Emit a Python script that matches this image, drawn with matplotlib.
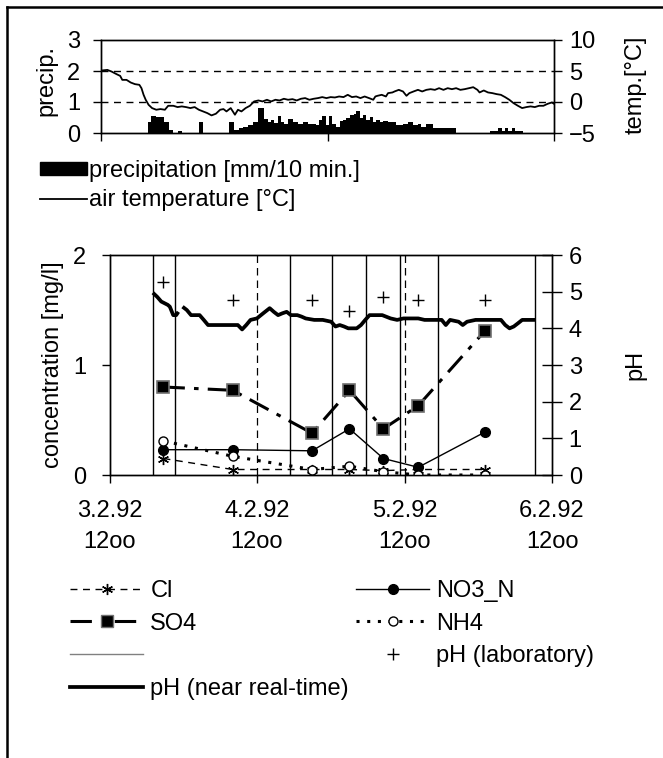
import numpy as np
import matplotlib.pyplot as plt
from matplotlib.lines import Line2D
from matplotlib.patches import Rectangle

plt.rcParams['font.family'] = ['Liberation Sans', 'DejaVu Sans']
plt.rcParams['font.size'] = 17

# time axis: days after 3.2.92 12:00
# precipitation blocks [mm/10 min.]: block edges and heights
precip_edges = [0.308, 0.330, 0.367, 0.418, 0.451, 0.474, 0.513, 0.535, 0.646, 0.677,
                0.850, 0.883, 0.916, 0.938, 0.971, 1.004, 1.038, 1.082, 1.104, 1.126,
                1.148, 1.170, 1.193, 1.215, 1.237, 1.270, 1.303, 1.336, 1.369, 1.403,
                1.425, 1.447, 1.465, 1.487, 1.509, 1.531, 1.558, 1.580, 1.602, 1.624,
                1.646, 1.673, 1.690, 1.712, 1.734, 1.757, 1.779, 1.801, 1.823, 1.845,
                1.867, 1.900, 1.956, 2.000, 2.033, 2.066, 2.099, 2.122, 2.155, 2.199,
                2.232, 2.310, 2.354, 2.575, 2.628, 2.655, 2.675, 2.695, 2.720, 2.740,
                2.794]
precip_mm = [0.36, 0.55, 0.51, 0.36, 0.10, 0, 0.06, 0, 0.36, 0,
             0.36, 0.10, 0.17, 0.20, 0.25, 0.34, 0.80, 0.45, 0.34, 0.43,
             0.32, 0.55, 0.36, 0.28, 0.45, 0.34, 0.28, 0.34, 0.28, 0.28,
             0.25, 0.43, 0.55, 0.25, 0.55, 0.28, 0.20, 0.40, 0.43, 0.48,
             0.57, 0.62, 0.70, 0.48, 0.57, 0.43, 0.51, 0.36, 0.43, 0.34,
             0.40, 0.34, 0.25, 0.28, 0.34, 0.25, 0.28, 0.20, 0.28, 0.17,
             0.17, 0.17, 0, 0.08, 0.15, 0.08, 0.15, 0.08, 0.15, 0.05]

# air temperature [°C]
temp_t = [0.000, 0.042, 0.070, 0.099, 0.127, 0.141, 0.169, 0.197, 0.225, 0.254,
          0.268, 0.282, 0.296, 0.315, 0.338, 0.366, 0.394, 0.423, 0.445, 0.479,
          0.507, 0.535, 0.563, 0.592, 0.620, 0.648, 0.676, 0.704, 0.732, 0.761,
          0.789, 0.811, 0.831, 0.859, 0.887, 0.907, 0.930, 0.958, 0.986, 1.014,
          1.042, 1.070, 1.099, 1.127, 1.155, 1.183, 1.211, 1.239, 1.268, 1.296,
          1.324, 1.352, 1.380, 1.408, 1.437, 1.465, 1.493, 1.521, 1.549, 1.577,
          1.606, 1.634, 1.662, 1.690, 1.718, 1.746, 1.775, 1.803, 1.817, 1.831,
          1.859, 1.887, 1.901, 1.930, 1.944, 1.972, 2.000, 2.023, 2.042, 2.070,
          2.099, 2.127, 2.155, 2.183, 2.211, 2.239, 2.268, 2.296, 2.324, 2.352,
          2.380, 2.408, 2.437, 2.465, 2.493, 2.507, 2.535, 2.563, 2.592, 2.620,
          2.648, 2.676, 2.704, 2.732, 2.761, 2.789, 2.817, 2.845, 2.873, 2.901,
          2.930, 2.958, 2.986, 3.000]
temp_c = [5.07, 5.18, 4.91, 4.54, 4.21, 3.57, 3.57, 3.14, 2.88, 2.77,
          2.23, 1.16, 0.36, -0.45, -0.98, -1.25, -1.14, -1.25, -0.61, -0.61,
          -0.82, -0.71, -0.82, -0.98, -0.82, -1.25, -1.52, -1.79, -2.16, -1.89,
          -1.25, -1.14, -1.52, -0.98, -2.05, -1.25, -1.52, -0.98, -0.61, 0.09,
          0.25, 0.09, 0.36, 0.09, 0.36, 0.25, 0.52, 0.36, 0.46, 0.25,
          0.52, 0.63, 0.36, 0.52, 0.63, 0.79, 0.63, 0.79, 0.73, 0.89,
          0.79, 1.16, 0.79, 0.89, 0.63, 0.89, 0.63, 0.36, 0.89, 1.00,
          1.16, 0.89, 1.43, 1.54, 1.70, 1.96, 1.70, 1.00, 1.43, 1.70,
          1.96, 1.70, 1.96, 2.07, 1.96, 2.23, 1.96, 2.23, 2.07, 2.23,
          1.96, 2.07, 2.23, 2.39, 1.96, 1.54, 1.86, 1.54, 1.43, 1.27,
          1.16, 0.79, 0.36, -0.18, -0.61, -0.98, -0.82, -0.71, -0.82, -0.61,
          -0.61, -0.29, -0.07, -0.29]

# pH near real-time (nan = gap in record)
ph_t = [0.294, 0.323, 0.351, 0.395, 0.409, 0.432, 0.452, 0.467, 0.480, 0.495,
        0.524, 0.553, 0.611, 0.639, 0.668, 0.827, 0.870, 0.899, 0.927, 0.956,
        0.999, 1.042, 1.086, 1.114, 1.143, 1.172, 1.201, 1.230, 1.273, 1.302,
        1.330, 1.388, 1.446, 1.503, 1.532, 1.561, 1.590, 1.619, 1.676, 1.705,
        1.734, 1.763, 1.849, 1.906, 1.950, 1.993, 2.093, 2.136, 2.252, 2.280,
        2.309, 2.367, 2.395, 2.424, 2.482, 2.654, 2.683, 2.712, 2.741, 2.770,
        2.798, 2.885]
ph_rt = [4.97, 4.86, 4.73, 4.64, 4.59, 4.36, 4.36, 4.45, np.nan, 4.59,
         4.50, 4.36, 4.36, 4.23, 4.09, 4.09, 4.09, 3.97, 4.09, 4.23,
         4.27, 4.41, 4.55, 4.45, 4.36, 4.41, 4.45, 4.36, 4.36, 4.32,
         4.27, 4.23, 4.23, 4.18, 4.05, 4.09, 4.05, 4.00, 4.00, 4.09,
         4.23, 4.36, 4.36, 4.27, 4.23, 4.27, 4.27, 4.23, 4.23, 4.09,
         4.23, 4.18, 4.09, 4.18, 4.23, 4.23, 4.09, 4.00, 4.05, 4.14,
         4.23, 4.23]

# samples
sample_t = [0.366, 0.835, 1.373, 1.627, 1.857, 2.093, 2.545]
cl = [0.15, 0.05, 0.05, 0.05, 0.04, 0.05, 0.05]
so4 = [0.80, 0.77, 0.38, 0.77, 0.42, 0.63, 1.31]
no3_n = [0.23, 0.23, 0.22, 0.42, 0.15, 0.07, 0.39]
nh4 = [0.31, 0.17, 0.05, 0.08, 0.03, 0.0, 0.0]
ph_lab = [5.27, 4.77, 4.77, 4.47, 4.85, 4.77, 4.77]

# sampling interval boundaries
interval_bounds = [0.294, 0.446, 1.224, 1.506, 1.739, 1.969, 2.228, 2.885]
day_ticks = [0, 1, 2, 3]
day_labels = ['3.2.92\n12oo', '4.2.92\n12oo', '5.2.92\n12oo', '6.2.92\n12oo']

W, H = 663, 758
fig = plt.figure(figsize=(W / 100, H / 100), dpi=100)


def box(x0, y0, x1, y1):
    return [x0 / W, 1 - y1 / H, (x1 - x0) / W, (y1 - y0) / H]


# frame around the figure
fig.add_artist(Line2D([7 / W, 7 / W], [0, 1 - 7 / H], color='black', lw=1.8))
fig.add_artist(Line2D([7 / W, 1], [1 - 7 / H, 1 - 7 / H], color='black', lw=1.8))

# ---- top panel: precipitation and air temperature ----
ax1 = fig.add_axes(box(101, 40, 554, 133))
ax1.bar(precip_edges[:-1], precip_mm, width=np.diff(precip_edges), align='edge',
        color='black', linewidth=0)
for y in (1, 2):
    ax1.axhline(y, color='black', lw=1, ls=(0, (5, 4)))
ax1.set_xlim(0, 3)
ax1.set_ylim(0, 3)
ax1.set_yticks([0, 1, 2, 3])
ax1.set_xticks([0, 1.5, 3])
ax1.set_xticklabels([])
ax1.tick_params(direction='out', length=6, width=1, pad=9)
ax1.set_ylabel('precip.')
ax1.yaxis.set_label_coords(-0.097, 0.56)

ax1t = ax1.twinx()
ax1t.plot(temp_t, temp_c, color='black', lw=1.3)
ax1t.set_ylim(-5, 10)
ax1t.set_yticks([-5, 0, 5, 10])
ax1t.tick_params(direction='out', length=6, width=1, pad=5)
ax1t.set_ylabel('temp.[°C]')
ax1t.yaxis.set_label_coords(1.155, 0.52)
for a in (ax1, ax1t):
    for s in a.spines.values():
        s.set_linewidth(1)

leg1 = fig.legend([Rectangle((0, 0), 1, 1, color='black'),
                   Line2D([], [], color='black', lw=1.3)],
                  ['precipitation [mm/10 min.]', 'air temperature [°C]'],
                  loc='upper left', bbox_to_anchor=(40 / W, 1 - 160 / H),
                  frameon=False, borderpad=0, borderaxespad=0,
                  handlelength=2.0, handleheight=0.5, handletextpad=0.08,
                  labelspacing=0.3)

# ---- bottom panel: concentrations and pH ----
ax2 = fig.add_axes(box(109.5, 255, 552, 475))
for t in interval_bounds:
    ax2.axvline(t, color='black', lw=1, zorder=1)
for t in day_ticks[1:3]:
    ax2.axvline(t, color='black', lw=0.9, ls=(0, (6, 4)), zorder=1)

ax2.plot(sample_t, cl, color='black', lw=1, ls=(0, (5, 4)),
         marker=(6, 2, 0), ms=8, mew=1, label='Cl', zorder=3)
ax2.plot(sample_t, so4, color='black', lw=2.2, ls=(0, (7, 3, 1.5, 3)),
         marker='s', ms=8, mfc='black', mec='#707070', mew=1.2, label='SO4', zorder=3)
ax2.plot(sample_t, no3_n, color='black', lw=1, ls='-',
         marker='o', ms=7, mfc='black', mec='black', label='NO3_N', zorder=3)
ax2.plot(sample_t, nh4, color='black', lw=2.2, ls=(0, (1, 2.5)),
         marker='o', ms=6.5, mfc='white', mec='black', mew=1, label='NH4', zorder=3)
ax2.set_xlim(0, 3)
ax2.set_ylim(0, 2)
ax2.set_yticks([0, 1, 2])
ax2.set_xticks(day_ticks)
ax2.set_xticklabels(day_labels, linespacing=1.5)
ax2.tick_params(axis='y', direction='out', length=6, width=1, pad=11)
ax2.tick_params(axis='x', direction='out', length=6, width=1, pad=12)
ax2.set_ylabel('concentration [mg/l]')
ax2.yaxis.set_label_coords(-0.103, 0.5)

ax2t = ax2.twinx()
ax2t.plot(ph_t, ph_rt, color='black', lw=2.7, solid_capstyle='butt')
ax2t.plot(sample_t, ph_lab, ls='none', marker='+', ms=8, mew=1, color='black')
ax2t.set_ylim(0, 6)
ax2t.set_yticks(range(7))
ax2t.tick_params(direction='inout', length=14, width=1, pad=5)
ax2t.set_ylabel('pH')
ax2t.yaxis.set_label_coords(1.163, 0.5)
for a in (ax2, ax2t):
    for s in a.spines.values():
        s.set_linewidth(1)

h_cl = Line2D([], [], color='black', lw=1, ls=(0, (5, 4)), marker=(6, 2, 0), ms=8)
h_so4 = Line2D([], [], color='black', lw=2.2, ls=(0, (7, 3, 1.5, 3)), marker='s',
               ms=8, mfc='black', mec='#707070')
h_thin = Line2D([], [], color='#808080', lw=1)
h_phrt = Line2D([], [], color='black', lw=2.7)
h_no3 = Line2D([], [], color='black', lw=1, marker='o', ms=7)
h_nh4 = Line2D([], [], color='black', lw=2.2, ls=(0, (1, 2.5)), marker='o', ms=6.5,
               mfc='white', mec='black')
h_phlab = Line2D([], [], ls='none', marker='+', ms=8, color='black')

leg_kw = dict(loc='upper left', frameon=False, borderpad=0, borderaxespad=0,
              handlelength=3.1, handletextpad=0.3, labelspacing=0.45)
legA = fig.legend([h_cl, h_so4, h_thin, h_phrt],
                  ['Cl', 'SO4', '', 'pH (near real-time)'],
                  bbox_to_anchor=(70 / W, 1 - 580 / H), **leg_kw)
legB = fig.legend([h_no3, h_nh4, h_phlab],
                  ['NO3_N', 'NH4', 'pH (laboratory)'],
                  bbox_to_anchor=(356 / W, 1 - 580 / H), **leg_kw)

fig.savefig('out.png', dpi=100)
